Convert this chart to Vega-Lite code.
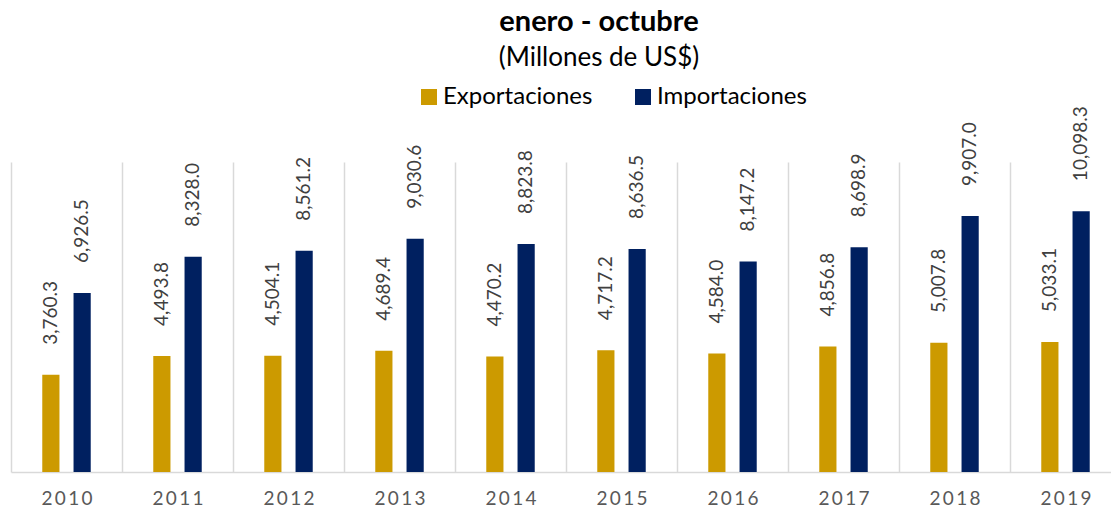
{
  "$schema": "https://vega.github.io/schema/vega-lite/v6.json",
  "width": 1100,
  "height": 310,
  "autosize": {"type": "none"},
  "padding": {"left": 11, "top": 162, "right": 0, "bottom": 40},
  "background": "white",
  "config": {"font": "Lato", "view": {"stroke": null}},
  "title": {
    "text": "enero - octubre",
    "subtitle": "(Millones de US$)",
    "fontSize": 29,
    "fontWeight": "bold",
    "color": "#000000",
    "subtitleFontSize": 26,
    "subtitleColor": "#000000",
    "subtitlePadding": 8,
    "anchor": "middle",
    "frame": "group",
    "dx": 38,
    "dy": -10
  },
  "data": {
    "values": [
      {"year": "2010", "serie": "Exportaciones", "value": 3760.3},
      {"year": "2010", "serie": "Importaciones", "value": 6926.5},
      {"year": "2011", "serie": "Exportaciones", "value": 4493.8},
      {"year": "2011", "serie": "Importaciones", "value": 8328.0},
      {"year": "2012", "serie": "Exportaciones", "value": 4504.1},
      {"year": "2012", "serie": "Importaciones", "value": 8561.2},
      {"year": "2013", "serie": "Exportaciones", "value": 4689.4},
      {"year": "2013", "serie": "Importaciones", "value": 9030.6},
      {"year": "2014", "serie": "Exportaciones", "value": 4470.2},
      {"year": "2014", "serie": "Importaciones", "value": 8823.8},
      {"year": "2015", "serie": "Exportaciones", "value": 4717.2},
      {"year": "2015", "serie": "Importaciones", "value": 8636.5},
      {"year": "2016", "serie": "Exportaciones", "value": 4584.0},
      {"year": "2016", "serie": "Importaciones", "value": 8147.2},
      {"year": "2017", "serie": "Exportaciones", "value": 4856.8},
      {"year": "2017", "serie": "Importaciones", "value": 8698.9},
      {"year": "2018", "serie": "Exportaciones", "value": 5007.8},
      {"year": "2018", "serie": "Importaciones", "value": 9907.0},
      {"year": "2019", "serie": "Exportaciones", "value": 5033.1},
      {"year": "2019", "serie": "Importaciones", "value": 10098.3}
    ]
  },
  "encoding": {
    "x": {
      "field": "year",
      "type": "nominal",
      "scale": {"paddingInner": 0, "paddingOuter": 0, "range": [0, 1110]},
      "axis": {
        "title": null,
        "labelAngle": 0,
        "labelFontSize": 19,
        "labelColor": "#595959",
        "labelPadding": 17,
        "labelExpr": "join(split(datum.label, ''), '\u2009')",
        "ticks": false,
        "domainColor": "#d9d9d9",
        "domainWidth": 1.5,
        "grid": true,
        "gridColor": "#d9d9d9",
        "gridWidth": 1.5,
        "tickBand": "extent"
      }
    },
    "xOffset": {
      "field": "serie",
      "type": "nominal",
      "sort": ["Exportaciones", "Importaciones"],
      "scale": {"paddingInner": 0.45, "paddingOuter": 1.14}
    },
    "y": {
      "field": "value",
      "type": "quantitative",
      "scale": {"domain": [0, 12000]},
      "axis": null
    }
  },
  "layer": [
    {
      "mark": {"type": "bar"},
      "encoding": {
        "color": {
          "field": "serie",
          "type": "nominal",
          "scale": {"domain": ["Exportaciones", "Importaciones"], "range": ["#CC9A00", "#002060"]},
          "legend": {
            "title": null,
            "orient": "none",
            "direction": "horizontal",
            "legendX": 406,
            "legendY": -77,
            "symbolType": "square",
            "symbolSize": 256,
            "symbolStrokeWidth": 0,
            "labelFontSize": 24,
            "labelColor": "#000000",
            "labelOffset": 2,
            "columnPadding": 38
          }
        }
      }
    },
    {
      "mark": {"type": "text", "angle": 270, "align": "left", "baseline": "middle", "dx": 30, "fontSize": 19, "color": "#404040"},
      "encoding": {
        "text": {"field": "value", "type": "quantitative", "format": ",.1f"}
      }
    }
  ]
}
